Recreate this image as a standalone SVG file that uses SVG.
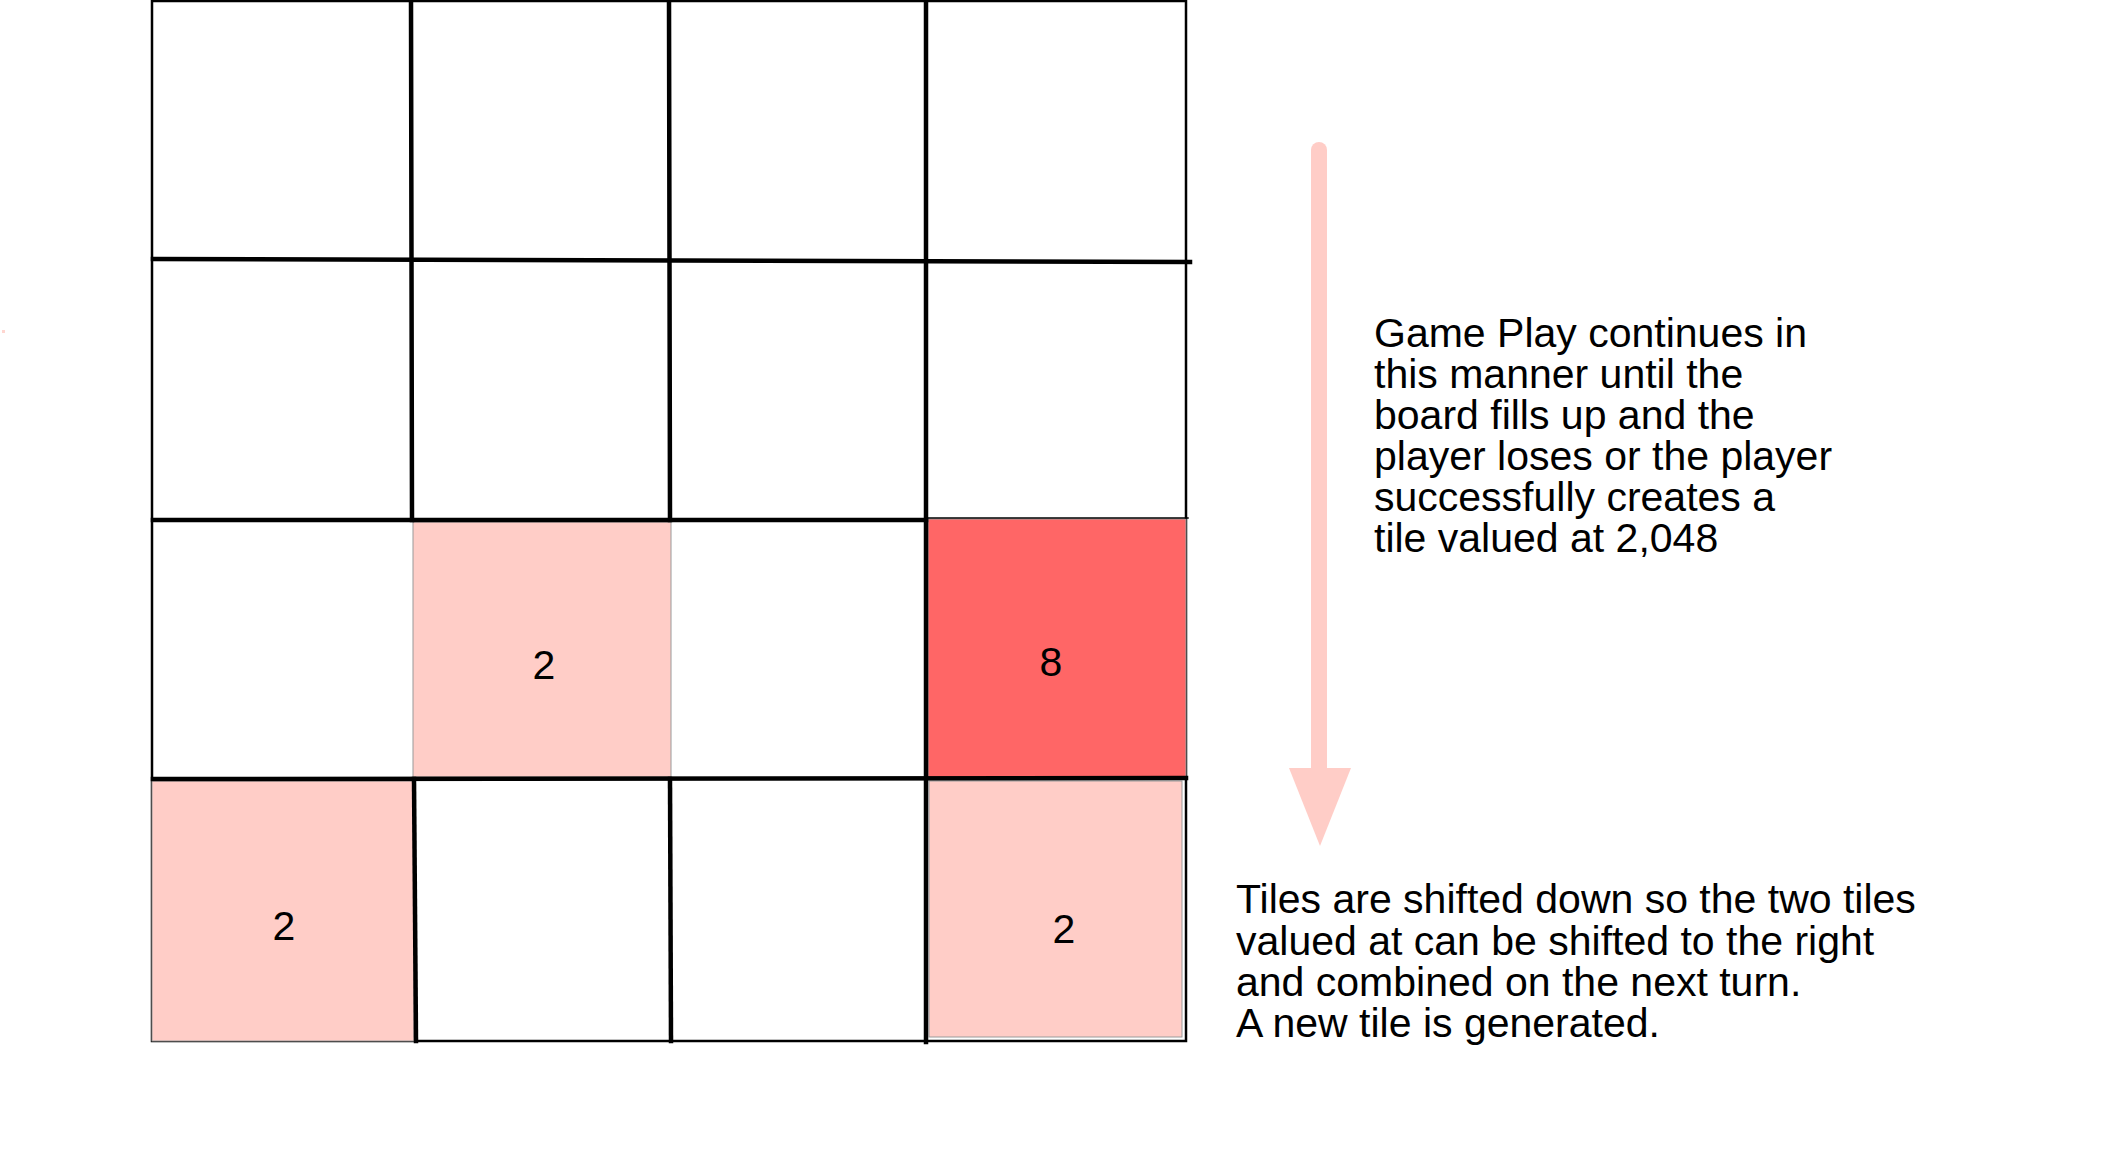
<svg xmlns="http://www.w3.org/2000/svg" width="2112" height="1149" viewBox="0 0 2112 1149">
  <style>
    .pink { fill: #FFCDC7; stroke: #9a9a9a; stroke-width: 1; }
    .red { fill: #FF6666; stroke: #9a9a9a; stroke-width: 1; }
    .num { font-family: "Liberation Sans", Arial, Helvetica, sans-serif; font-size: 41px; fill: #000; text-anchor: middle; }
    .txt { font-family: "Liberation Sans", Arial, Helvetica, sans-serif; font-size: 41px; fill: #000; }
    .grid { stroke: #000; fill: none; stroke-linecap: square; }
  </style>
  <rect width="2112" height="1149" fill="#ffffff"/>
  <rect x="2" y="330" width="3" height="3" fill="#FFD6D0"/>

  <g id="board">
    <rect class="grid" x="152" y="1" width="1034" height="1040" stroke-width="2.5"/>
  </g>

  <g id="tile-r3c2">
    <rect class="pink" x="413" y="522" width="258" height="255"/>
    <text class="num" x="544" y="679">2</text>
  </g>
  <g id="tile-r3c4">
    <rect class="red" x="928" y="519" width="258" height="259"/>
    <text class="num" x="1051" y="676">8</text>
  </g>
  <g id="tile-r4c1">
    <rect class="pink" x="152" y="781" width="262" height="260"/>
    <text class="num" x="284" y="940">2</text>
  </g>
  <g id="tile-r4c4">
    <rect class="pink" x="929" y="781" width="253" height="256"/>
    <text class="num" x="1064" y="943">2</text>
  </g>

  <g id="grid-lines" class="grid" stroke-width="4.5">
    <line x1="411" y1="1" x2="412" y2="520"/>
    <line x1="414" y1="779" x2="416" y2="1041"/>
    <line x1="669" y1="1" x2="670" y2="520"/>
    <line x1="670" y1="779" x2="671" y2="1041"/>
    <line x1="926" y1="1" x2="926" y2="1042"/>
    <line x1="153" y1="259" x2="1190" y2="262"/>
    <line x1="153" y1="520" x2="926" y2="520"/>
    <line x1="153" y1="779" x2="1186" y2="778"/>
    <line x1="926" y1="518" x2="1188" y2="518" stroke-width="1.5"/>
  </g>

  <g id="connectors">
    <line x1="1319" y1="150" x2="1319" y2="770" stroke="#FFCDC7" stroke-width="16" stroke-linecap="round"/>
    <polygon points="1289,768 1351,768 1320,846" fill="#FFCDC7"/>
  </g>

  <g id="note-top">
    <text class="txt" x="1374" y="347">Game Play continues in</text>
    <text class="txt" x="1374" y="388">this manner until the</text>
    <text class="txt" x="1374" y="429">board fills up and the</text>
    <text class="txt" x="1374" y="470">player loses or the player</text>
    <text class="txt" x="1374" y="511">successfully creates a</text>
    <text class="txt" x="1374" y="552">tile valued at 2,048</text>
  </g>

  <g id="note-bottom">
    <text class="txt" x="1236" y="913">Tiles are shifted down so the two tiles</text>
    <text class="txt" x="1236" y="955">valued at can be shifted to the right</text>
    <text class="txt" x="1236" y="996">and combined on the next turn.</text>
    <text class="txt" x="1236" y="1037">A new tile is generated.</text>
  </g>
</svg>
